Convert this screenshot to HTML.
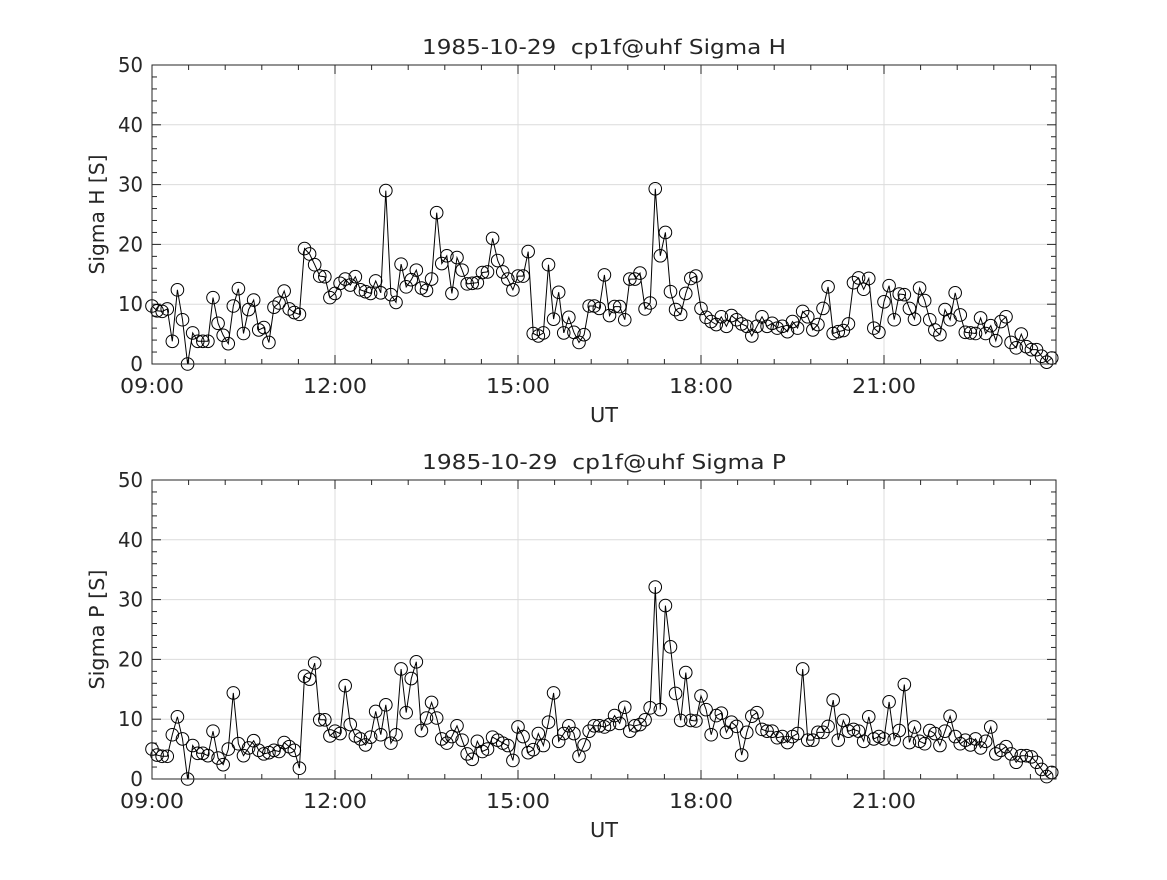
<!DOCTYPE html>
<html><head><meta charset="utf-8"><style>
body{margin:0;background:#fff;}
svg text{font-family:"DejaVu Sans","Liberation Sans",sans-serif;fill:#262626;white-space:pre;}
</style></head><body>
<svg id="chart" width="1167" height="875" xmlns="http://www.w3.org/2000/svg"></svg>
<script>
const sigmaH = [9.7,8.9,8.8,9.2,3.8,12.4,7.4,0,5.2,3.8,3.8,3.8,11.1,6.8,4.8,3.4,9.7,12.6,5.1,9.1,10.7,5.7,6.1,3.6,9.5,10.2,12.2,9.2,8.6,8.3,19.3,18.4,16.6,14.7,14.6,11.1,11.8,13.5,14.2,13.2,14.6,12.4,12.1,11.8,13.9,11.9,29,11.6,10.3,16.7,12.9,14.1,15.7,12.7,12.3,14.2,25.3,16.8,18.1,11.8,17.8,
15.7,13.4,13.5,13.6,15.3,15.4,21,17.3,15.4,14.2,12.4,14.7,14.7,18.8,5.1,4.7,5.2,16.6,7.5,12,5.2,7.8,5.3,3.6,4.9,9.7,9.7,9.3,14.9,8.1,9.6,9.6,7.4,14.2,14.2,15.2,9.2,10.2,29.3,18.1,22,12.1,9.1,8.3,11.8,14.3,14.7,9.3,7.8,7.1,6.6,7.9,6.3,8.1,7.4,6.7,6.3,4.7,6.3,
7.9,6.3,6.8,6,6.3,5.4,7.1,6,8.8,7.9,5.7,6.6,9.3,12.9,5.1,5.4,5.6,6.7,13.6,14.4,12.5,14.3,6,5.3,10.4,13.1,7.4,11.7,11.6,9.3,7.5,12.7,10.6,7.4,5.7,4.9,9.1,7.4,11.9,8.2,5.3,5.2,5.1,7.7,5.1,6.4,3.9,7.1,7.9,3.6,2.7,5,2.9,2.4,2.4,1.3,0.3,1];
const sigmaP = [5,4,3.8,3.8,7.4,10.4,6.7,0,5.6,4.3,4.3,3.9,8,3.5,2.4,5,14.4,5.9,3.9,5.2,6.4,4.8,4.2,4.4,4.8,4.6,6.1,5.4,4.8,1.8,17.2,16.7,19.4,9.9,9.9,7.2,8,7.6,15.6,9.1,7.2,6.7,5.7,7,11.3,7.4,12.4,6,7.4,18.4,11.1,16.8,19.6,8.1,10.2,12.8,10.2,6.7,6,7.1,8.9,
6.5,4.2,3.3,6.3,4.6,5,7,6.5,6,5.6,3.1,8.7,7.1,4.4,4.9,7.6,5.6,9.5,14.4,6.3,7.6,8.9,7.6,3.8,5.7,8,8.9,8.9,8.7,9.1,10.6,9.3,12,8,8.9,9.1,9.9,11.9,32.1,11.6,29,22.1,14.3,9.8,17.8,9.8,9.7,13.9,11.6,7.4,10.6,11,7.8,9.5,8.8,4,7.8,10.5,11.1,
8.3,8,8,6.9,7.1,6.1,7.1,7.6,18.4,6.5,6.5,7.8,7.8,8.8,13.2,6.5,9.8,8,8.3,8,6.3,10.4,6.7,7.1,6.7,12.9,6.6,8.1,15.8,6.1,8.7,6.3,5.9,8.1,7.6,5.6,8,10.5,7.1,5.9,6.5,5.7,6.7,5.2,6.3,8.7,4.2,4.8,5.4,4.2,2.8,3.9,3.9,3.7,2.8,1.6,0.4,1.1];
const xTickLabels = ["09:00","12:00","15:00","18:00","21:00"];
const xTickHours = [9,12,15,18,21];
const yTicks = [0,10,20,30,40,50];
const startHour = 9, endHour = 23.75;

const svg = document.getElementById('chart');
const NS = 'http://www.w3.org/2000/svg';
function mk(tag, attrs, parent){const e=document.createElementNS(NS,tag);for(const k in attrs)e.setAttribute(k,attrs[k]);(parent||svg).appendChild(e);return e;}

const L=152, R=1056, PXH=61;
function xs(h){return L+(h-9)*PXH;}
const FS=20;

function panel(top, bottom, values, title, ylabel, key){
  const g=mk('g',{});
  
  
  const ys=v=>bottom-(v/50)*(bottom-top);
  xTickHours.forEach(h=>{ if(h>9) mk('line',{x1:xs(h),x2:xs(h),y1:top,y2:bottom,stroke:'#dcdcdc','stroke-width':1},g);});
  yTicks.forEach(v=>{ if(v>0&&v<50) mk('line',{x1:L,x2:R,y1:ys(v),y2:ys(v),stroke:'#dcdcdc','stroke-width':1},g);});
  for(let m=0; xs(9+m*0.6)<=R+0.5; m++){const x=xs(9+m*0.6);const big=m%5===0;const len=big?9:5;
    mk('line',{x1:x,x2:x,y1:bottom,y2:bottom-len,stroke:'#262626'},g);mk('line',{x1:x,x2:x,y1:top,y2:top+len,stroke:'#262626'},g);}
  for(let v=0; v<=50; v+=2){const y=ys(v);const len=v%10===0?9:5;
    mk('line',{x1:L,x2:L+len,y1:y,y2:y,stroke:'#262626'},g);mk('line',{x1:R,x2:R-len,y1:y,y2:y,stroke:'#262626'},g);}
  const n=values.length;
  const hrs=values.map((v,i)=>startHour+i*(endHour-startHour)/(n-1));
  const pts=values.map((v,i)=>xs(hrs[i]).toFixed(1)+','+ys(v).toFixed(1)).join(' ');
  const line=mk('polyline',{points:pts,fill:'none',stroke:'#000','stroke-width':1},g);
  
  
  values.forEach((v,i)=>{const c=mk('circle',{cx:xs(hrs[i]),cy:ys(v),r:6.3,fill:'none',stroke:'#000','stroke-width':1},g);
    
    });
  mk('rect',{x:L,y:top,width:R-L,height:bottom-top,fill:'none',stroke:'#262626','stroke-width':1},g);
  xTickHours.forEach((h,i)=>{const t=mk('text',{x:xs(h),y:bottom+29,'text-anchor':'middle','font-size':FS,textLength:64,lengthAdjust:'spacingAndGlyphs'},g);t.textContent=xTickLabels[i];
    });
  yTicks.forEach(v=>{const attrs={x:L-9,y:ys(v)+7,'text-anchor':'end','font-size':FS};
    if(v>0){attrs.textLength=25;attrs.lengthAdjust='spacingAndGlyphs';}
    const t=mk('text',attrs,g);t.textContent=v;
    });
  const tt=mk('text',{x:(L+R)/2,y:top-11,'text-anchor':'middle','font-size':FS,textLength:364,lengthAdjust:'spacingAndGlyphs'},g);tt.textContent=title;
  
  const xl=mk('text',{x:(L+R)/2,y:bottom+58,'text-anchor':'middle','font-size':FS,textLength:28,lengthAdjust:'spacingAndGlyphs'},g);xl.textContent='UT';
  
  const cy=(top+bottom)/2;
  const yl=mk('text',{x:104,y:cy,'text-anchor':'middle','font-size':FS,textLength:120,lengthAdjust:'spacingAndGlyphs',transform:'rotate(-90 104 '+cy+')'},g);yl.textContent=ylabel;
  
}
panel(65,364,sigmaH,'1985-10-29  cp1f@uhf Sigma H','Sigma H [S]','sigma-h');
panel(480,779,sigmaP,'1985-10-29  cp1f@uhf Sigma P','Sigma P [S]','sigma-p');
</script>
</body></html>
